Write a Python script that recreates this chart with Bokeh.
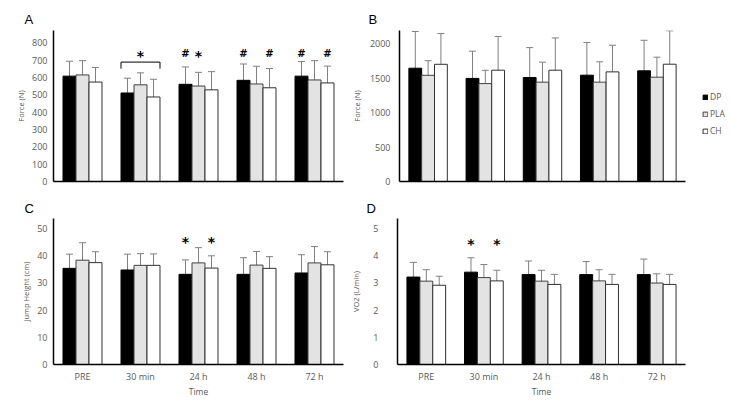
import numpy as np
from bokeh.plotting import figure
from bokeh.layouts import column, row
from bokeh.models import (Range1d, FixedTicker, Whisker, TeeHead, ColumnDataSource,
                          Legend, LegendItem)
from bokeh.core.properties import value
from bokeh.embed import file_html
from bokeh.resources import INLINE

# ---------------- data ----------------
categories = ["PRE", "30 min", "24 h", "48 h", "72 h"]
series = ["DP", "PLA", "CH"]

# Panel A: Force (N)
a_dp = [607, 510, 560, 583, 607]
a_pla = [614, 557, 550, 562, 585]
a_ch = [573, 487, 528, 540, 568]
a_dp_err = [86, 85, 100, 94, 84]
a_pla_err = [82, 69, 79, 102, 111]
a_ch_err = [84, 102, 105, 111, 97]

# Panel B: Force (N)
b_dp = [1643, 1495, 1508, 1542, 1605]
b_pla = [1540, 1420, 1441, 1441, 1513]
b_ch = [1700, 1614, 1614, 1590, 1701]
b_dp_err = [533, 395, 434, 475, 443]
b_pla_err = [212, 193, 290, 295, 290]
b_ch_err = [446, 490, 468, 386, 485]

# Panel C: Jump Height (cm)
c_dp = [35.3, 34.7, 33.1, 33.1, 33.6]
c_pla = [38.3, 36.4, 37.3, 36.5, 37.3]
c_ch = [37.4, 36.4, 35.4, 35.3, 36.6]
c_dp_err = [5.2, 5.8, 5.3, 6.1, 6.7]
c_pla_err = [6.4, 4.3, 5.6, 5.0, 6.0]
c_ch_err = [4.0, 4.2, 4.5, 4.3, 4.8]

# Panel D: VO2 (L/min)
d_dp = [3.21, 3.39, 3.30, 3.30, 3.30]
d_pla = [3.06, 3.19, 3.06, 3.07, 2.99]
d_ch = [2.91, 3.07, 2.94, 2.94, 2.94]
d_dp_err = [0.54, 0.53, 0.50, 0.48, 0.57]
d_pla_err = [0.42, 0.48, 0.40, 0.41, 0.34]
d_ch_err = [0.33, 0.39, 0.37, 0.37, 0.37]

# significance marks: (category index, series index or None for group centre, symbol, y)
a_marks = [(1, None, "*", 725), (2, 0, "#", 736), (2, 1, "*", 725),
           (3, 0, "#", 736), (3, 2, "#", 736), (4, 0, "#", 736), (4, 2, "#", 736)]
a_bracket_cat = 1
a_bracket_y = [650, 688]
c_marks = [(2, 0, "*", 45.0), (2, 2, "*", 45.0)]
d_marks = [(1, 0, "*", 4.41), (1, 2, "*", 4.41)]

# ---------------- style ----------------
BW = 0.224
OFFS = [-BW, 0.0, BW]
FILLS = ["#000000", "#e3e3e3", "#ffffff"]
LINES = ["#000000", "#404040", "#303030"]
ERR = "#808080"
TXT = "#595959"
FONT = "Open Sans"


def make_panel(letter, vals, errs, ymax, yticks, ylabel, width, height, borders,
               show_x, title_offset, title_standoff, marks, tick_standoff,
               label_standoff, xlabel=None):
    p = figure(width=width, height=height, output_backend="svg", toolbar_location=None,
               x_range=Range1d(0.5, 5.5), y_range=Range1d(0, ymax),
               min_border_left=borders[0], min_border_right=borders[1],
               min_border_top=borders[2], min_border_bottom=borders[3])
    p.outline_line_color = None
    p.grid.visible = False
    p.background_fill_color = "white"
    p.border_fill_color = "white"

    for k in range(3):
        xs = [i + 1 + OFFS[k] for i in range(5)]
        v = vals[k]
        e = errs[k]
        src = ColumnDataSource(dict(x=xs, top=v,
                                    upper=[a + b for a, b in zip(v, e)],
                                    lower=[a - b for a, b in zip(v, e)]))
        p.vbar(x="x", top="top", width=BW, source=src, fill_color=FILLS[k],
               line_color=LINES[k], line_width=1)
        w = Whisker(source=src, base="x", upper="upper", lower="lower",
                    line_color=ERR, line_width=1,
                    upper_head=TeeHead(size=7, line_color=ERR, line_width=1),
                    lower_head=TeeHead(size=7, line_color=ERR, line_width=1))
        p.add_layout(w)

    # y axis
    ya = p.yaxis[0]
    ya.ticker = FixedTicker(ticks=yticks)
    ya.axis_line_color = "black"
    ya.axis_line_width = 1.5
    ya.major_tick_line_color = None
    ya.minor_tick_line_color = None
    ya.major_tick_out = 0
    ya.major_tick_in = 0
    ya.major_label_text_color = TXT
    ya.major_label_text_font = FONT
    ya.major_label_text_font_size = "9px"
    ya.major_label_standoff = tick_standoff
    ya.axis_label = ylabel
    ya.axis_label_text_font = FONT
    ya.axis_label_text_font_size = "7.5px"
    ya.axis_label_text_font_style = "normal"
    ya.axis_label_text_color = TXT
    ya.axis_label_standoff = label_standoff

    # x axis
    xa = p.xaxis[0]
    xa.axis_line_color = "black"
    xa.axis_line_width = 1.5
    xa.major_tick_line_color = None
    xa.minor_tick_line_color = None
    xa.major_tick_out = 0
    xa.major_tick_in = 0
    if show_x:
        xa.ticker = FixedTicker(ticks=[1, 2, 3, 4, 5])
        xa.major_label_overrides = {i + 1: c for i, c in enumerate(categories)}
        xa.major_label_text_color = TXT
        xa.major_label_text_font = FONT
        xa.major_label_text_font_size = "9px"
        xa.major_label_standoff = 5
        xa.axis_label = xlabel
        xa.axis_label_text_font = FONT
        xa.axis_label_text_font_size = "8.5px"
        xa.axis_label_text_font_style = "normal"
        xa.axis_label_text_color = TXT
        xa.axis_label_standoff = 0
    else:
        xa.ticker = FixedTicker(ticks=[])
        xa.major_label_standoff = 0

    # panel letter
    p.title.text = letter
    p.title.align = "left"
    p.title.offset = title_offset
    p.title.text_font = "Liberation Sans"
    p.title.text_font_size = "13px"
    p.title.text_font_style = "normal"
    p.title.text_color = "black"
    p.title.standoff = title_standoff

    # significance marks
    mx, my, mt, mf = [], [], [], []
    for ci, si, sym, yv in marks:
        off = 0.0 if si is None else OFFS[si]
        mx.append(ci + 1 + off)
        my.append(yv)
        mt.append(sym)
        mf.append("14px" if sym == "*" else "10px")
    if mx:
        msrc = ColumnDataSource(dict(x=mx, y=my, t=mt, fs=mf))
        p.text(x="x", y="y", text="t", source=msrc, text_align="center",
               text_baseline="middle", text_font=value("DejaVu Sans"),
               text_font_size="fs", text_font_style="bold", text_color="#000000")
    return p


pA = make_panel("A", [a_dp, a_pla, a_ch], [a_dp_err, a_pla_err, a_ch_err], 870,
                list(range(0, 801, 100)), "Force (N)", 348, 194, (53, 5, 30, 13),
                False, -29, 7, a_marks, 6, 3)
# bracket over 30 min group
bx0 = a_bracket_cat + 1 + OFFS[0] - BW / 2
bx1 = a_bracket_cat + 1 + OFFS[2] + BW / 2
pA.line(x=[bx0, bx0, bx1, bx1],
        y=[a_bracket_y[0], a_bracket_y[1], a_bracket_y[1], a_bracket_y[0]],
        line_color="black", line_width=1)

pB = make_panel("B", [b_dp, b_pla, b_ch], [b_dp_err, b_pla_err, b_ch_err], 2190,
                list(range(0, 2001, 500)), "Force (N)", 342, 194, (49, 5, 30, 13),
                False, -31, 7, [], 9, 5)

# legend panel (to the right of B); swatch renderers carry no drawable data
pL = figure(width=39, height=194, output_backend="svg", toolbar_location=None,
            x_range=Range1d(0, 1), y_range=Range1d(0, 1),
            x_axis_type=None, y_axis_type=None,
            min_border_left=0, min_border_right=0, min_border_top=0, min_border_bottom=0)
pL.outline_line_color = None
pL.grid.visible = False
leg_items = []
for k, s in enumerate(series):
    r = pL.vbar(x=np.array([0.5]), top=np.array([np.nan]), width=0.1,
                fill_color=FILLS[k], line_color=LINES[k], line_width=1)
    leg_items.append(LegendItem(label=s, renderers=[r]))
legend = Legend(items=leg_items, location=(12, 45), orientation="vertical",
                glyph_width=6, glyph_height=6, label_height=10, label_standoff=2,
                spacing=6, padding=0, margin=0,
                label_text_font=FONT, label_text_font_size="8.5px", label_text_color=TXT,
                border_line_color=None, background_fill_alpha=0)
pL.add_layout(legend, "center")

pC = make_panel("C", [c_dp, c_pla, c_ch], [c_dp_err, c_pla_err, c_ch_err], 53.6,
                list(range(0, 51, 10)), "Jump Height (cm)", 348, 205, (53, 5, 24, 31),
                True, -29, 6, c_marks, 6, 3, xlabel="Time")
pD = make_panel("D", [d_dp, d_pla, d_ch], [d_dp_err, d_pla_err, d_ch_err], 5.36,
                [0, 1, 2, 3, 4, 5], "VO2 (L/min)", 381, 205, (49, 44, 24, 31),
                True, -31, 6, d_marks, 19, 9, xlabel="Time")

layout = column(row(pA, pB, pL), row(pC, pD))
open("out.html", "w").write(file_html(layout, INLINE))
